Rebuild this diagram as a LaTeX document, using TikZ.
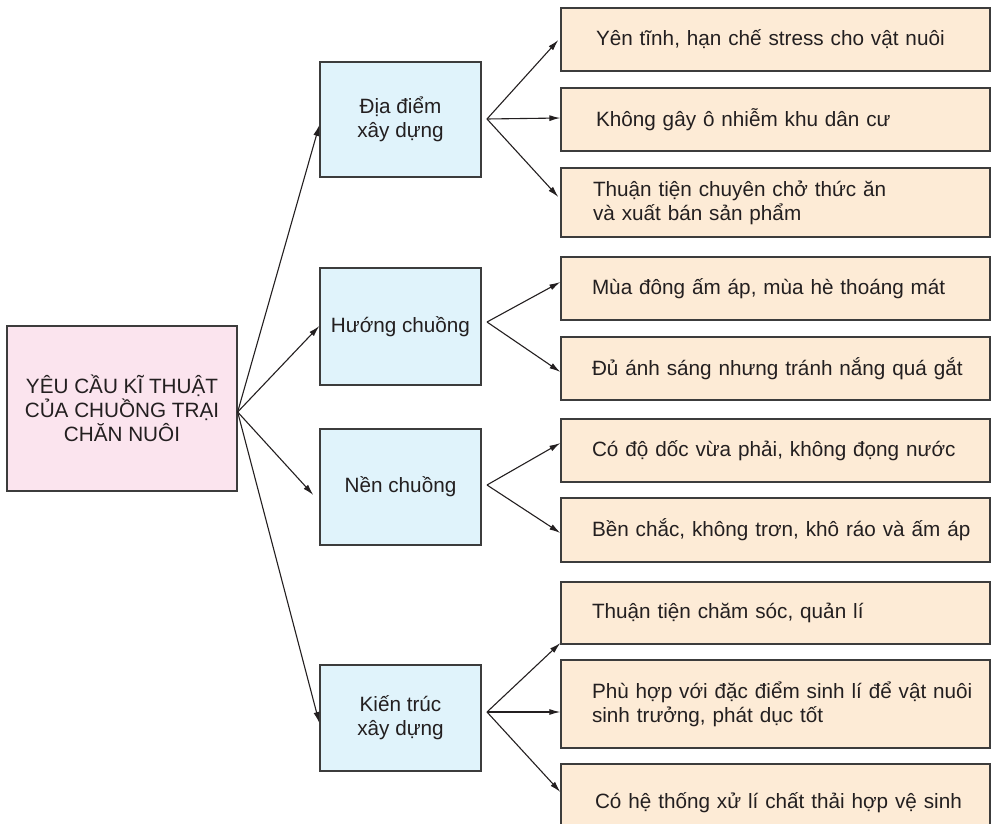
\documentclass[tikz,border=0pt]{standalone}
\usepackage{fontspec}
\setmainfont{Liberation Sans}
\usetikzlibrary{arrows.meta}
\definecolor{inkc}{HTML}{231F20}
\definecolor{edgec}{HTML}{3C3C3C}
\definecolor{pinkf}{HTML}{FBE4EE}
\definecolor{bluef}{HTML}{E0F3FB}
\definecolor{orangef}{HTML}{FDEBD6}
\tikzset{
  box/.style={draw=edgec, line width=1.3pt, inner sep=0pt, text=inkc,
    font=\fontsize{20.7}{24}\selectfont},
  rootbox/.style={box, fill=pinkf, minimum width=230pt, minimum height=165pt, align=center},
  midbox/.style={box, fill=bluef, minimum width=161pt, align=center},
  leafbox/.style={box, fill=orangef, inner xsep=31pt, text width=367pt, align=left},
  arr/.style={draw=inkc, line width=1.1pt, -{Latex[length=11pt,width=6pt]}}
}
\begin{document}
\begin{tikzpicture}[x=1pt,y=-1pt]
\useasboundingbox (0,0) rectangle (999,824);
\clip (0,0) rectangle (999,824);

% root
\node[rootbox] (root) at (122,408.5) {YÊU CẦU KĨ THUẬT\\CỦA CHUỒNG TRẠI\\CHĂN NUÔI};

% middle boxes
\node[midbox, minimum height=115pt] (m1) at (400.5,119.5) {Địa điểm\\xây dựng};
\node[midbox, minimum height=117pt] (m2) at (400.5,326.5) {Hướng chuồng};
\node[midbox, minimum height=116pt] (m3) at (400.5,487) {Nền chuồng};
\node[midbox, minimum height=106pt] (m4) at (400.5,718) {Kiến trúc\\xây dựng};

% leaf boxes
\node[leafbox, minimum height=63pt] (r1) at (775.5,39.5) {\mbox{\hspace*{4pt}Yên tĩnh, hạn chế stress cho vật nuôi}};
\node[leafbox, minimum height=63pt] (r2) at (775.5,119.5) {\mbox{\hspace*{4pt}Không gây ô nhiễm khu dân cư}};
\node[leafbox, minimum height=69pt] (r3) at (775.5,202.5) {\mbox{\hspace*{1pt}Thuận tiện chuyên chở thức ăn}\\\mbox{\hspace*{1pt}và xuất bán sản phẩm}};
\node[leafbox, minimum height=63pt] (r4) at (775.5,288.5) {\mbox{Mùa đông ấm áp, mùa hè thoáng mát}};
\node[leafbox, minimum height=63pt] (r5) at (775.5,368.5) {\mbox{Đủ ánh sáng nhưng tránh nắng quá gắt}};
\node[leafbox, minimum height=63pt] (r6) at (775.5,450.5) {\mbox{Có độ dốc vừa phải, không đọng nước}};
\node[leafbox, minimum height=64pt] (r7) at (775.5,530) {\mbox{Bền chắc, không trơn, khô ráo và ấm áp}};
\node[leafbox, minimum height=62pt] (r8) at (775.5,613) {\mbox{Thuận tiện chăm sóc, quản lí}};
\node[leafbox, minimum height=88pt] (r9) at (775.5,704) {\mbox{Phù hợp với đặc điểm sinh lí để vật nuôi}\\\mbox{sinh trưởng, phát dục tốt}};
\node[leafbox, minimum height=78pt] (r10) at (775.5,803) {\mbox{\hspace*{3pt}Có hệ thống xử lí chất thải hợp vệ sinh}};

% branch points
\coordinate (rc) at (root.east |- 0,412);
\coordinate (b1) at (487,119);
\coordinate (b2) at (487,322);
\coordinate (b3) at (487,485);
\coordinate (b4) at (487,712);

% root to middle
\draw[arr] (rc) -- (m1.west |- 0,125);
\draw[arr] (rc) -- (m2.west |- 0,326);
\draw[arr] (rc) -- ([xshift=-6pt]m3.west |- 0,495);
\draw[arr] (rc) -- (m4.west |- 0,723);

% middle to leaves
\draw[arr] (b1) -- ([xshift=-2pt]r1.west |- 0,40);
\draw[arr] (b1) -- (r2.west |- 0,118);
\draw[arr] (b1) -- ([xshift=-2pt]r3.west |- 0,197);

\draw[arr] (b2) -- (r4.west |- 0,282);
\draw[arr] (b2) -- (r5.west |- 0,372);

\draw[arr] (b3) -- (r6.west |- 0,443);
\draw[arr] (b3) -- (r7.west |- 0,533);

\draw[arr] (b4) -- (r8.west |- 0,643);
\draw[arr] (b4) -- (r9.west |- 0,712);
\draw[arr] (b4) -- (r10.west |- 0,792);
\end{tikzpicture}
\end{document}
